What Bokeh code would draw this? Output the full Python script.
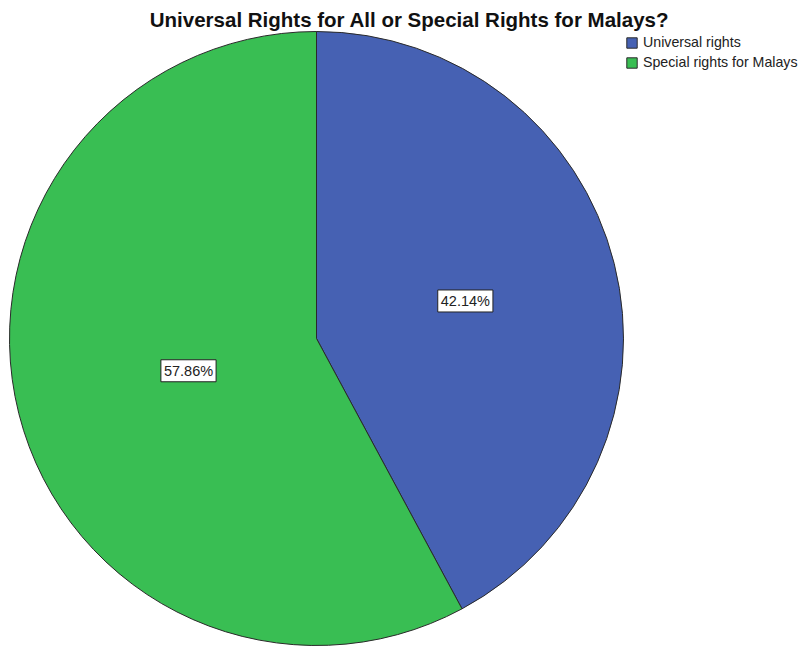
import math
from bokeh.plotting import figure
from bokeh.models import ColumnDataSource, Range1d, Legend, LegendItem
from bokeh.core.properties import value
from bokeh.embed import file_html
from bokeh.resources import INLINE

categories = ["Universal rights", "Special rights for Malays"]
percentages = [42.14, 57.86]
colors = ["#4661B3", "#39BE53"]
title_text = "Universal Rights for All or Special Rights for Malays?"

W, H = 804, 646
cx, cy, R = 316, 308, 307

# clockwise from 12 o'clock
starts, ends, lx, ly, labels = [], [], [], [], []
cum = 0.0
for pct in percentages:
    a_top = math.pi / 2 - cum / 100 * 2 * math.pi
    a_bot = math.pi / 2 - (cum + pct) / 100 * 2 * math.pi
    starts.append(a_bot)
    ends.append(a_top)
    mid = (a_top + a_bot) / 2
    frac = 0.5 if pct < 50 else 0.43
    lx.append(cx + frac * R * math.cos(mid))
    ly.append(cy + frac * R * math.sin(mid))
    labels.append(f"{pct:.2f}%")
    cum += pct

src = ColumnDataSource(dict(cat=categories, start=starts, end=ends, color=colors,
                            x=[cx] * len(categories), y=[cy] * len(categories),
                            lx=lx, ly=ly, label=labels))

p = figure(width=W, height=H, x_range=Range1d(0, W), y_range=Range1d(0, H),
           x_axis_type=None, y_axis_type=None, toolbar_location=None,
           output_backend="svg", min_border=0, outline_line_color=None)
p.xgrid.visible = False
p.ygrid.visible = False

r = p.wedge(x="x", y="y", radius=R, radius_units="data", start_angle="start", end_angle="end",
            fill_color="color", line_color="#2a2a2a", line_width=1, source=src)

p.text(x=[409], y=[627], text=[title_text], text_font=value("Liberation Sans"),
       text_font_size="20.5px", text_font_style="bold", text_align="center",
       text_baseline="middle", text_color="#111111")

p.text(x="lx", y="ly", text="label", source=src, text_align="center",
       text_baseline="middle", text_font=value("Liberation Sans"),
       text_font_size="14.5px", text_color="#222222",
       background_fill_color="white", border_line_color="#222222",
       border_line_width=1, padding=3)

items = [LegendItem(label=c, renderers=[r], index=i) for i, c in enumerate(categories)]
legend = Legend(items=items, location=(625, 576), padding=0, margin=0, spacing=4,
                glyph_height=13, glyph_width=13, label_standoff=5, label_height=13,
                label_text_font="Liberation Sans", label_text_font_size="14.2px",
                label_text_color="#222222", border_line_color=None,
                background_fill_alpha=0)
p.add_layout(legend)

open("out.html", "w").write(file_html(p, INLINE))
